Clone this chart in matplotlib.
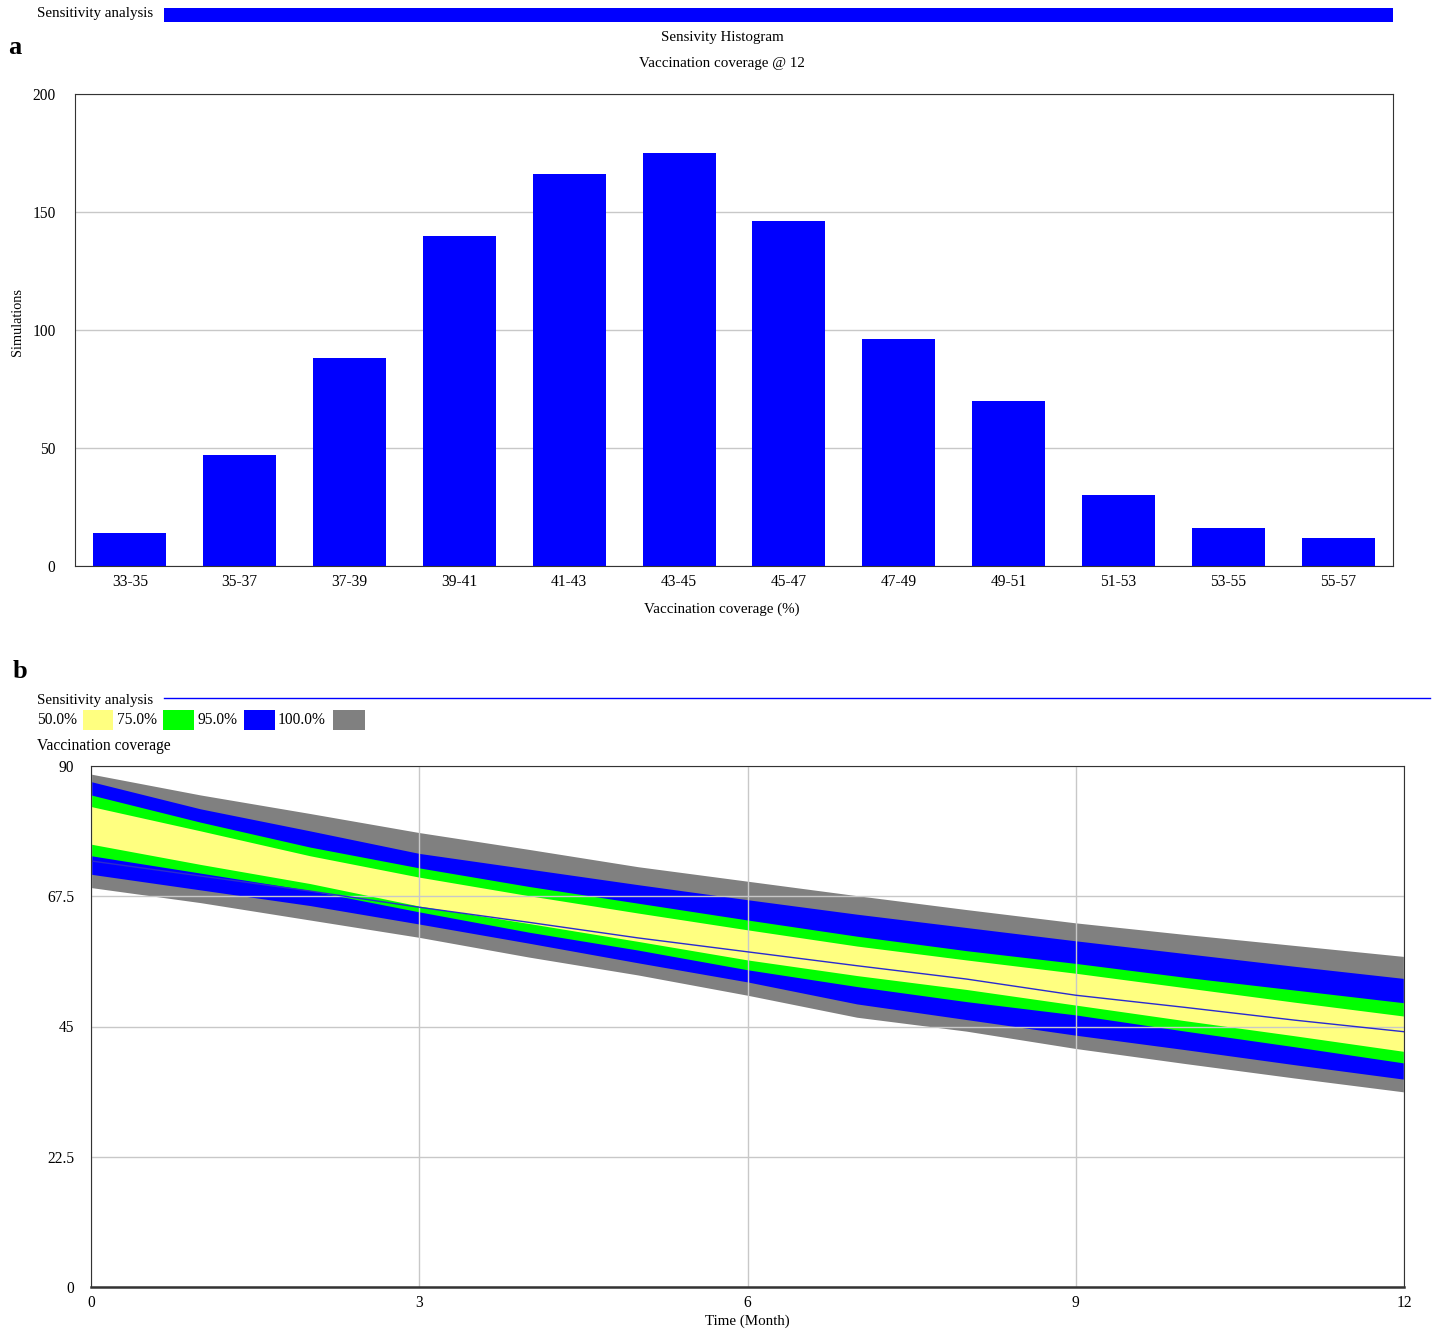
import matplotlib
matplotlib.use("Agg")
import matplotlib.pyplot as plt
from matplotlib.patches import Rectangle
from matplotlib.lines import Line2D

plt.rcParams["font.family"] = ["Liberation Serif", "DejaVu Serif"]

# panel a: histogram of vaccination coverage at month 12
bins = ["33-35", "35-37", "37-39", "39-41", "41-43", "43-45",
        "45-47", "47-49", "49-51", "51-53", "53-55", "55-57"]
counts = [14, 47, 88, 140, 166, 175, 146, 96, 70, 30, 16, 12]

# panel b: confidence bands over time
months = [0, 1, 2, 3, 4, 5, 6, 7, 8, 9, 10, 11, 12]
grey_hi = [88.6, 85.0, 81.8, 78.5, 75.6, 72.6, 70.1, 67.6, 65.2, 62.9, 60.9, 59.0, 57.1]
blue_hi = [87.3, 82.6, 78.8, 74.9, 72.2, 69.5, 66.9, 64.4, 62.1, 59.8, 57.6, 55.4, 53.3]
green_hi = [85.0, 80.3, 76.0, 72.4, 69.2, 66.3, 63.4, 60.6, 58.1, 55.9, 53.5, 51.3, 49.1]
yellow_hi = [83.0, 78.8, 74.5, 70.8, 67.6, 64.6, 61.7, 58.9, 56.5, 54.2, 51.7, 49.2, 46.8]
yellow_lo = [76.5, 73.0, 69.7, 65.8, 62.8, 59.7, 56.5, 53.8, 51.4, 48.7, 46.0, 43.4, 40.7]
green_lo = [74.5, 71.5, 68.5, 64.8, 61.3, 58.2, 54.8, 51.9, 49.3, 47.0, 44.2, 41.5, 38.7]
blue_lo = [71.3, 68.6, 65.9, 62.7, 59.4, 56.0, 52.7, 48.9, 46.2, 43.5, 41.0, 38.4, 35.9]
grey_lo = [69.0, 66.4, 63.4, 60.4, 57.0, 53.9, 50.4, 46.6, 44.2, 41.2, 38.6, 36.1, 33.7]
base_run = [73.6, 71.0, 68.4, 65.6, 63.0, 60.3, 57.9, 55.5, 53.2, 50.4, 48.3, 46.1, 44.1]

band_labels = ["50.0%", "75.0%", "95.0%", "100.0%"]
band_colors = ["#FFFF80", "#00FF00", "#0000FF", "#808080"]

W, H = 1432, 1331
fig = plt.figure(figsize=(W / 100, H / 100), dpi=100)


def fx(px):
    return px / W


def fy(py):
    return 1 - py / H


FS = 10.8

# ---------- panel a ----------
fig.text(fx(37), fy(14), "Sensitivity analysis", fontsize=FS, va="center")
fig.add_artist(Rectangle((fx(164), fy(22)), fx(1393) - fx(164), fy(8) - fy(22),
                         transform=fig.transFigure, color="#0000FF", lw=0))
fig.text(fx(8), fy(48), "a", fontsize=19, fontweight="bold", va="center")
fig.text(fx(722), fy(38), "Sensivity Histogram", fontsize=FS, ha="center", va="center")
fig.text(fx(722), fy(63), "Vaccination coverage @ 12", fontsize=FS, ha="center", va="center")

ax1 = fig.add_axes([fx(75), fy(566), fx(1393) - fx(75), fy(94) - fy(566)])
ax1.bar(range(len(bins)), counts, width=0.665, color="#0000FF", zorder=2)
ax1.set_xlim(-0.5, len(bins) - 0.5)
ax1.set_ylim(0, 200)
ax1.set_yticks([0, 50, 100, 150, 200])
ax1.set_xticks(range(len(bins)))
ax1.set_xticklabels(bins)
ax1.tick_params(length=0, labelsize=FS + 0.4)
ax1.tick_params(axis="y", pad=14)
ax1.tick_params(axis="x", pad=6)
ax1.grid(axis="y", color="#c8c8c8", lw=1, zorder=0)
ax1.set_axisbelow(True)
for s in ax1.spines.values():
    s.set_color("#333333")
fig.text(fx(17), fy(322), "Simulations", fontsize=FS - 0.5, rotation=90,
         ha="center", va="center")
fig.text(fx(722), fy(609), "Vaccination coverage (%)", fontsize=FS, ha="center", va="center")

# ---------- panel b ----------
fig.text(fx(13), fy(672), "b", fontsize=19, fontweight="bold", va="center")
fig.text(fx(37), fy(700), "Sensitivity analysis", fontsize=FS, va="center")
fig.add_artist(Line2D([fx(164), fx(1430)], [fy(698), fy(698)],
                      transform=fig.transFigure, color="#0000FF", lw=1))

# legend row of band swatches
lx = [37, 117, 197, 278]
sw = [(83, 113), (163, 194), (244, 275), (333, 365)]
for lab, col, x0, (s0, s1) in zip(band_labels, band_colors, lx, sw):
    fig.text(fx(x0), fy(720), lab, fontsize=FS + 0.4, va="center")
    fig.add_artist(Rectangle((fx(s0), fy(730)), fx(s1) - fx(s0), fy(710) - fy(730),
                             transform=fig.transFigure, color=col, lw=0))
fig.text(fx(37), fy(746), "Vaccination coverage", fontsize=FS + 0.4, va="center")

ax2 = fig.add_axes([fx(91), fy(1287), fx(1404) - fx(91), fy(766) - fy(1287)])
ax2.fill_between(months, grey_lo, grey_hi, color=band_colors[3], lw=0, zorder=1)
ax2.fill_between(months, blue_lo, blue_hi, color=band_colors[2], lw=0, zorder=1)
ax2.fill_between(months, green_lo, green_hi, color=band_colors[1], lw=0, zorder=1)
ax2.fill_between(months, yellow_lo, yellow_hi, color=band_colors[0], lw=0, zorder=1)
ax2.plot(months, base_run, color="#2a2ad0", lw=1, zorder=3)
ax2.set_xlim(0, 12)
ax2.set_ylim(0, 90)
ax2.set_xticks([0, 3, 6, 9, 12])
ax2.set_yticks([0, 22.5, 45, 67.5, 90])
ax2.set_yticklabels(["0", "22.5", "45", "67.5", "90"])
ax2.tick_params(length=0, labelsize=FS + 0.4)
ax2.tick_params(axis="y", pad=12)
ax2.tick_params(axis="x", pad=6)
ax2.grid(color="#c8c8c8", lw=1, zorder=2)
ax2.set_axisbelow(False)
for s in ax2.spines.values():
    s.set_color("#333333")
    s.set_zorder(5)
ax2.spines["bottom"].set_linewidth(1.8)
fig.text(fx(747), fy(1321), "Time (Month)", fontsize=FS, ha="center", va="center")

fig.savefig("out.png", dpi=100)
